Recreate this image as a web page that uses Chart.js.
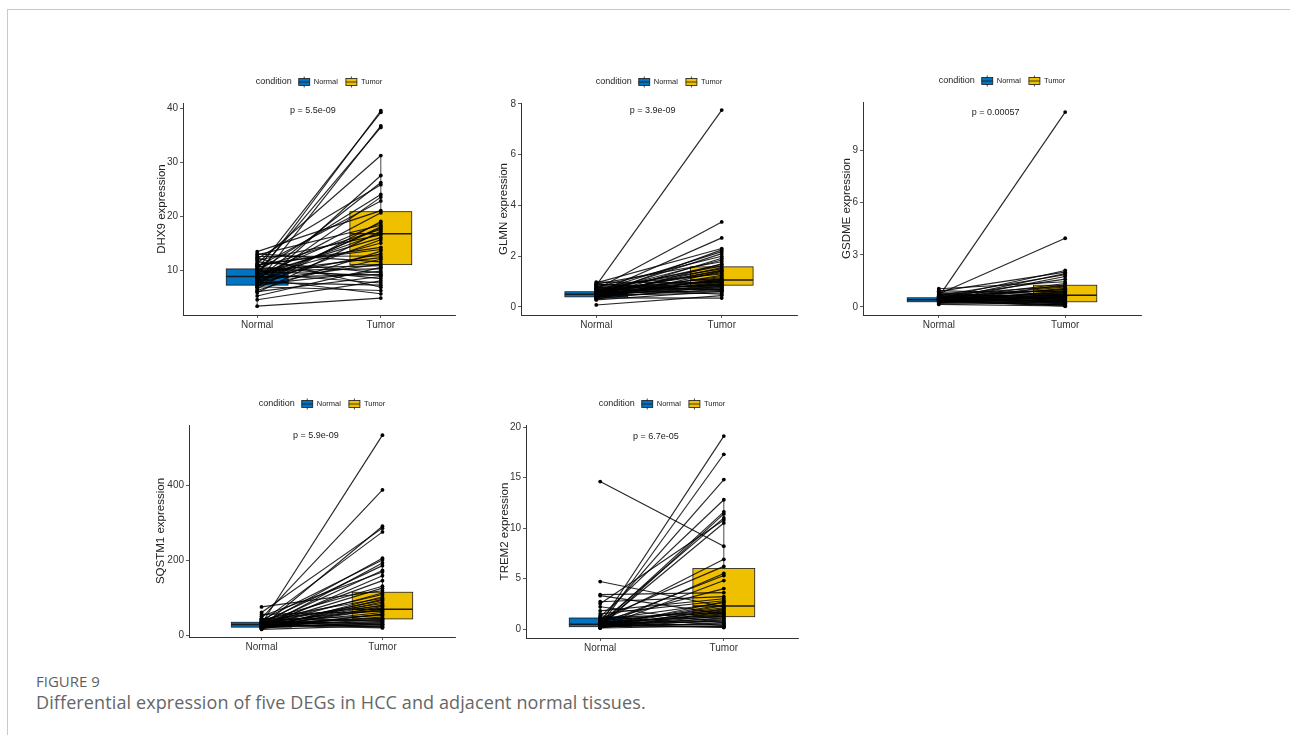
<!DOCTYPE html>
<html>
<head>
<meta charset="utf-8">
<script src="https://cdn.jsdelivr.net/npm/chart.js@4.4.0/dist/chart.umd.min.js"></script>
<style>
    html, body { margin: 0; padding: 0; background: #fff; }
    #page { position: relative; width: 1290px; height: 735px; overflow: hidden; }
    .frame { position: absolute; left: 7px; top: 9px; width: 1400px; height: 800px;
             border-top: 1px solid #c9c9c9; border-left: 1px solid #c9c9c9; }
    .panel { position: absolute; }
    .fig-label { position: absolute; left: 36px; top: 671px; font-family: "Open Sans", sans-serif;
                 font-size: 15px; line-height: 20px; color: #5f5f5f; }
    .fig-caption { position: absolute; left: 36px; top: 690px; font-family: "Open Sans", sans-serif;
                   font-size: 18px; line-height: 24px; letter-spacing: 0.11px; color: #666; }
</style>
</head>
<body>
<div id="page">
    <div class="frame"></div>
    <canvas class="panel" id="p1"></canvas>
    <canvas class="panel" id="p2"></canvas>
    <canvas class="panel" id="p3"></canvas>
    <canvas class="panel" id="p4"></canvas>
    <canvas class="panel" id="p5"></canvas>
    <div class="fig-label">FIGURE 9</div>
    <div class="fig-caption">Differential expression of five DEGs in HCC and adjacent normal tissues.</div>
</div>
<script>
const groups = ["Normal", "Tumor"];
const groupColors = ["#0073C2", "#EFC000"];

// paired samples, same order in both arrays
const dhx9Normal = [8.9, 10.1, 7.6, 9.4, 11.2, 6.8, 8.2, 12.1, 9.8, 7.4, 10.6, 13.4, 8.5, 6.5, 9.0, 12.8, 7.9, 10.4, 5.8, 8.7,
    11.8, 9.2, 7.2, 10.9, 6.2, 8.4, 12.5, 9.6, 7.0, 13.0, 8.0, 10.2, 5.2, 9.9, 7.3, 11.5, 8.6, 6.0, 10.7, 4.5,
    9.3, 7.7, 12.2, 6.9, 8.3, 3.3, 9.7, 11.0, 7.5, 8.8];
const dhx9Tumor = [39.5, 39.2, 36.7, 36.4, 31.2, 27.5, 26.2, 25.8, 24.0, 23.5, 22.8, 21.0, 20.6, 19.0, 18.7, 18.3, 17.8, 17.5, 17.2, 16.8,
    16.5, 16.0, 15.6, 14.2, 13.5, 13.0, 12.6, 12.3, 12.0, 11.5, 11.1, 10.8, 10.5, 10.2, 9.8, 9.5, 9.2, 8.8, 8.4, 8.0,
    7.6, 7.2, 6.8, 6.2, 5.6, 4.8, 9.0, 13.8, 18.0, 15.0];
// q1, median, q3, lower whisker, upper whisker
const dhx9BoxNormal = [7.2, 8.8, 10.2, 3.3, 13.4];
const dhx9BoxTumor = [11.0, 16.7, 20.8, 4.8, 31.2];

const glmnNormal = [0.85, 0.7, 0.55, 0.95, 0.45, 0.62, 0.5, 0.78, 0.4, 0.58, 0.9, 0.35, 0.66, 0.48, 0.72, 0.52, 0.3, 0.6, 0.82, 0.44,
    0.56, 0.68, 0.38, 0.5, 0.75, 0.46, 0.98, 0.54, 0.62, 0.42, 0.7, 0.32, 0.58, 0.88, 0.5, 0.64, 0.4, 0.8, 0.52, 0.28,
    0.6, 0.46, 0.74, 0.08, 0.36, 0.66, 0.44, 0.56, 0.9, 0.6];
const glmnTumor = [7.75, 3.35, 2.72, 2.3, 2.25, 2.18, 2.1, 2.0, 1.92, 1.85, 1.78, 1.7, 1.62, 1.55, 1.5, 1.45, 1.4, 1.35, 1.3, 1.25,
    1.2, 1.15, 1.1, 1.06, 1.02, 0.98, 0.95, 0.92, 0.9, 0.88, 0.85, 0.82, 0.8, 0.78, 0.75, 0.72, 0.7, 0.68, 0.65, 0.62,
    0.6, 0.55, 0.5, 0.45, 0.35, 1.0, 1.12, 1.42, 0.66, 1.68];
const glmnBoxNormal = [0.4, 0.5, 0.6, 0.28, 0.9];
const glmnBoxTumor = [0.86, 1.06, 1.58, 0.35, 2.3];

const gsdmeNormal = [0.6, 0.75, 0.5, 0.9, 0.4, 0.65, 0.35, 0.55, 1.05, 0.45, 0.3, 0.7, 0.5, 0.38, 0.6, 0.28, 0.85, 0.42, 0.52, 0.33,
    0.62, 0.46, 0.25, 0.7, 0.4, 0.55, 0.3, 0.8, 0.44, 0.36, 0.58, 0.2, 0.48, 0.66, 0.34, 0.5, 0.26, 0.42, 0.15, 0.38,
    0.95, 0.32, 0.54, 0.44, 0.28, 0.6, 0.36, 0.72, 0.48, 0.3];
const gsdmeTumor = [11.2, 3.95, 2.1, 2.0, 1.92, 1.85, 1.75, 1.6, 1.45, 1.35, 1.28, 1.2, 1.15, 1.08, 1.0, 0.95, 0.9, 0.85, 0.8, 0.75,
    0.7, 0.67, 0.62, 0.58, 0.55, 0.5, 0.46, 0.42, 0.38, 0.35, 0.32, 0.3, 0.27, 0.24, 0.2, 0.17, 0.14, 0.1, 0.06, 0.04,
    0.72, 0.88, 1.02, 0.6, 0.4, 0.48, 0.52, 0.36, 0.22, 0.12];
const gsdmeBoxNormal = [0.3, 0.42, 0.53, 0.15, 0.8];
const gsdmeBoxTumor = [0.3, 0.67, 1.25, 0.04, 2.1];

const sqstm1Normal = [30, 45, 22, 60, 35, 28, 40, 18, 33, 25, 50, 20, 38, 27, 75, 24, 32, 16, 42, 29,
    21, 36, 26, 19, 31, 23, 34, 55, 28, 17, 39, 25, 30, 22, 44, 27, 20, 33, 24, 15,
    29, 37, 26, 32, 23, 41, 19, 27, 35, 21];
const sqstm1Tumor = [533, 387, 290, 285, 275, 205, 200, 192, 185, 172, 168, 158, 130, 125, 118, 112, 108, 102, 98, 92,
    88, 84, 80, 76, 72, 69, 66, 63, 60, 56, 52, 48, 45, 42, 39, 36, 33, 30, 28, 25,
    23, 21, 19, 35, 55, 78, 95, 145, 40, 29];
const sqstm1BoxNormal = [21, 28, 34, 15, 50];
const sqstm1BoxTumor = [43, 69, 114, 19, 205];

const trem2Normal = [0.5, 0.3, 0.8, 1.2, 0.4, 0.2, 0.6, 2.5, 0.35, 14.6, 0.7, 1.0, 0.25, 0.5, 0.15, 4.7, 3.4, 3.3, 2.7, 2.2,
    1.8, 1.5, 0.9, 0.45, 0.3, 0.6, 0.2, 0.8, 0.4, 0.1, 1.1, 0.55, 0.3, 0.7, 0.25, 0.5, 0.15, 0.4, 0.65, 0.2,
    0.35, 0.5, 0.1, 0.3, 0.45, 1.3, 0.6, 0.25, 0.4, 0.8];
const trem2Tumor = [19.1, 17.3, 14.8, 12.8, 11.6, 11.4, 11.0, 10.8, 10.5, 8.2, 6.9, 6.2, 5.5, 5.3, 4.8, 2.2, 3.6, 1.5, 3.2, 0.6,
    3.0, 2.8, 2.6, 2.4, 2.3, 2.1, 2.0, 1.9, 1.8, 1.7, 1.6, 1.4, 1.3, 1.2, 1.1, 1.0, 0.9, 0.8, 0.7, 0.6,
    0.5, 0.4, 0.3, 0.2, 0.25, 0.35, 1.5, 2.7, 0.15, 4.0];
const trem2BoxNormal = [0.23, 0.46, 1.09, 0.1, 2.2];
const trem2BoxTumor = [1.22, 2.28, 6.0, 0.15, 12.8];

const pLabels = ["p = 5.5e-09", "p = 3.9e-09", "p = 0.00057", "p = 5.9e-09", "p = 6.7e-05"];
const dhx9Ticks = [10, 20, 30, 40];
const glmnTicks = [0, 2, 4, 6, 8];
const gsdmeTicks = [0, 3, 6, 9];
const sqstm1Ticks = [0, 200, 400];
const trem2Ticks = [0, 5, 10, 15, 20];

Chart.defaults.font.family = "'Liberation Sans', Arial, sans-serif";

// plot area of each panel on the page, its y range and how far the y title sits from the axis
const panels = [
    { id: "p1", gene: "DHX9", normal: dhx9Normal, tumor: dhx9Tumor, boxes: [dhx9BoxNormal, dhx9BoxTumor],
      p: pLabels[0], ticks: dhx9Ticks, yMin: 1.67, yMax: 40.93, area: [183, 103, 455, 315], titleOff: 21 },
    { id: "p2", gene: "GLMN", normal: glmnNormal, tumor: glmnTumor, boxes: [glmnBoxNormal, glmnBoxTumor],
      p: pLabels[1], ticks: glmnTicks, yMin: -0.315, yMax: 8.03, area: [521, 103, 797, 315], titleOff: 17 },
    { id: "p3", gene: "GSDME", normal: gsdmeNormal, tumor: gsdmeTumor, boxes: [gsdmeBoxNormal, gsdmeBoxTumor],
      p: pLabels[2], ticks: gsdmeTicks, yMin: -0.46, yMax: 11.78, area: [863, 102, 1141, 315], titleOff: 16 },
    { id: "p4", gene: "SQSTM1", normal: sqstm1Normal, tumor: sqstm1Tumor, boxes: [sqstm1BoxNormal, sqstm1BoxTumor],
      p: pLabels[3], ticks: sqstm1Ticks, yMin: -5.3, yMax: 560, area: [189, 425, 455, 637], titleOff: 28 },
    { id: "p5", gene: "TREM2", normal: trem2Normal, tumor: trem2Tumor, boxes: [trem2BoxNormal, trem2BoxTumor],
      p: pLabels[4], ticks: trem2Ticks, yMin: -0.89, yMax: 20.2, area: [526, 425, 798, 638], titleOff: 21 }
];

const AXIS_W = 40;
const AXIS_H = 22;
const PAD_TOP = 35;
const PAD_RIGHT = 4;
const TITLE_SIZE = 11.5;

const pairedBoxPlugin = {
    id: "pairedBox",
    beforeDatasetsDraw(chart, args, opts) {
        const { ctx, scales: { x, y } } = chart;
        ctx.save();
        opts.boxes.forEach((b, i) => {
            const [q1, med, q3, lo, hi] = b;
            const xc = x.getPixelForValue(i + 1);
            const x0 = x.getPixelForValue(i + 1 - 0.25);
            const x1 = x.getPixelForValue(i + 1 + 0.25);
            const yTop = y.getPixelForValue(q3);
            const yBot = y.getPixelForValue(q1);

            ctx.strokeStyle = "#1a1a1a";
            ctx.lineWidth = 0.8;
            ctx.beginPath();
            ctx.moveTo(xc, yTop);
            ctx.lineTo(xc, y.getPixelForValue(hi));
            ctx.moveTo(xc, yBot);
            ctx.lineTo(xc, y.getPixelForValue(lo));
            ctx.stroke();

            ctx.fillStyle = groupColors[i];
            ctx.fillRect(x0, yTop, x1 - x0, yBot - yTop);
            ctx.strokeRect(x0, yTop, x1 - x0, yBot - yTop);

            ctx.lineWidth = 1.5;
            ctx.beginPath();
            ctx.moveTo(x0, y.getPixelForValue(med));
            ctx.lineTo(x1, y.getPixelForValue(med));
            ctx.stroke();
        });
        ctx.restore();
    },
    afterDatasetsDraw(chart, args, opts) {
        const { ctx, scales: { x, y } } = chart;
        ctx.save();
        ctx.font = "9px 'Liberation Sans', Arial, sans-serif";
        ctx.fillStyle = "#222";
        ctx.textAlign = "center";
        ctx.textBaseline = "middle";
        ctx.fillText(opts.pText, x.getPixelForValue(1.45), y.getPixelForValue(opts.pY));
        ctx.restore();
    },
    afterDraw(chart) {
        const { ctx, chartArea } = chart;
        const cx = (chartArea.left + chartArea.right) / 2;
        const cy = chartArea.top - 21;
        ctx.save();
        ctx.textBaseline = "middle";
        ctx.textAlign = "left";
        ctx.fillStyle = "#222";

        const titleFont = "9px 'Liberation Sans', Arial, sans-serif";
        const itemFont = "7.5px 'Liberation Sans', Arial, sans-serif";
        ctx.font = titleFont;
        const wTitle = ctx.measureText("condition").width;
        ctx.font = itemFont;
        const wItems = groups.map(g => ctx.measureText(g).width);
        const keyW = 11;
        const total = wTitle + 7 + (keyW + 4) * 2 + wItems[0] + 8 + wItems[1];

        let px = cx - total / 2;
        ctx.font = titleFont;
        ctx.fillText("condition", px, cy);
        px += wTitle + 7;

        groups.forEach((g, i) => {
            ctx.strokeStyle = "#1a1a1a";
            ctx.lineWidth = 0.8;
            ctx.beginPath();
            ctx.moveTo(px + keyW / 2, cy - 5.5);
            ctx.lineTo(px + keyW / 2, cy + 5.5);
            ctx.stroke();
            ctx.fillStyle = groupColors[i];
            ctx.fillRect(px, cy - 3.5, keyW, 7);
            ctx.strokeRect(px, cy - 3.5, keyW, 7);
            ctx.beginPath();
            ctx.moveTo(px, cy);
            ctx.lineTo(px + keyW, cy);
            ctx.stroke();
            px += keyW + 4;
            ctx.fillStyle = "#222";
            ctx.font = itemFont;
            ctx.fillText(g, px, cy);
            px += wItems[i] + 8;
        });
        ctx.restore();
    }
};

function pairDatasets(normal, tumor) {
    return normal.map((n, i) => ({
        data: [{ x: 1, y: n }, { x: 2, y: tumor[i] }],
        borderColor: "rgba(0,0,0,0.85)",
        borderWidth: 1.15,
        pointRadius: 1.9,
        pointBackgroundColor: "#000",
        pointBorderWidth: 0,
        tension: 0
    }));
}

function createPanel(p) {
    const [left, top, right, bottom] = p.area;
    const canvas = document.getElementById(p.id);
    const w = AXIS_W + (right - left) + PAD_RIGHT;
    const h = PAD_TOP + (bottom - top) + AXIS_H;
    canvas.width = w;
    canvas.height = h;
    canvas.style.left = (left - AXIS_W) + "px";
    canvas.style.top = (top - PAD_TOP) + "px";
    canvas.style.width = w + "px";
    canvas.style.height = h + "px";

    const tickGrid = {
        display: true,
        drawOnChartArea: false,
        drawTicks: true,
        tickLength: 3,
        color: "#333",
        lineWidth: 0.8
    };

    new Chart(canvas, {
        type: "line",
        data: { datasets: pairDatasets(p.normal, p.tumor) },
        plugins: [pairedBoxPlugin],
        options: {
            animation: false,
            responsive: false,
            devicePixelRatio: 1,
            layout: { padding: { top: PAD_TOP, right: PAD_RIGHT, left: 0, bottom: 0 } },
            plugins: {
                legend: { display: false },
                tooltip: { enabled: false },
                pairedBox: {
                    boxes: p.boxes,
                    pText: p.p,
                    pY: Math.max(...p.tumor, ...p.normal)
                }
            },
            scales: {
                x: {
                    type: "linear",
                    min: 0.4,
                    max: 2.6,
                    afterBuildTicks: s => { s.ticks = groups.map((g, i) => ({ value: i + 1 })); },
                    afterFit: s => { s.height = AXIS_H; },
                    ticks: {
                        callback: v => groups[v - 1] || "",
                        color: "#333",
                        font: { size: 10 },
                        padding: 1,
                        autoSkip: false,
                        maxRotation: 0
                    },
                    grid: tickGrid,
                    border: { display: true, color: "#333", width: 1 }
                },
                y: {
                    type: "linear",
                    min: p.yMin,
                    max: p.yMax,
                    afterBuildTicks: s => { s.ticks = p.ticks.map(v => ({ value: v })); },
                    afterFit: s => { s.width = AXIS_W; },
                    ticks: {
                        color: "#333",
                        font: { size: 10 },
                        padding: 2
                    },
                    grid: tickGrid,
                    border: { display: true, color: "#333", width: 1 },
                    title: {
                        display: true,
                        text: p.gene + " expression",
                        color: "#222",
                        font: { size: TITLE_SIZE },
                        padding: { top: AXIS_W - TITLE_SIZE * 0.6 - p.titleOff, bottom: 0 }
                    }
                }
            }
        }
    });
}

panels.forEach(createPanel);
</script>
</body>
</html>
